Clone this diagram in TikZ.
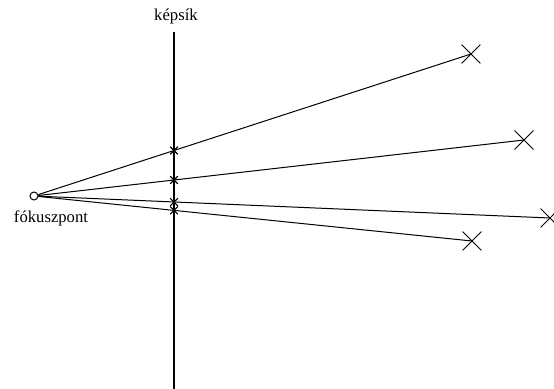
\documentclass[tikz,border=0pt]{standalone}
\usepackage{fontspec}
\setmainfont{Liberation Serif}
\usetikzlibrary{shapes.misc}
\begin{document}
\begin{tikzpicture}[x=0.75pt,y=-0.75pt,line width=0.75pt,
  bigx/.style={cross out,draw,minimum size=13.5pt,inner sep=0pt,line width=0.6pt},
  smallx/.style={cross out,draw,minimum size=5pt,inner sep=0pt,line width=0.8pt},
  lbl/.style={font=\fontsize{12.5}{14}\selectfont,inner sep=0pt}]
\useasboundingbox (0,0) rectangle (554,389);
\begin{scope}
\clip (0,0) rectangle (554,389);
\coordinate (top) at (174,32);
\coordinate (bot) at (174,389);
\draw[line width=1.1pt] (top) -- (bot);
\node[circle,draw,minimum size=6pt,inner sep=0pt] (f) at (34,196) {};
\node[bigx] (p1) at (471,54) {};
\node[bigx] (p2) at (524,140) {};
\node[bigx] (p3) at (550,218) {};
\node[bigx] (p4) at (472,241) {};
\node[smallx] (q1) at (174,150.5) {};
\node[smallx] (q2) at (174,180) {};
\node[smallx] (q3) at (174,202.2) {};
\node[smallx] (q4) at (174,210.4) {};
\draw (f) -- (p1.center);
\draw (f) -- (p2.center);
\draw (f) -- (p3.center);
\draw (f) -- (p4.center);
\end{scope}
\node[lbl] (t1) at (176,16) {képsík};
\node[lbl] (t2) at (51,218) {fókuszpont};
\end{tikzpicture}
\end{document}
